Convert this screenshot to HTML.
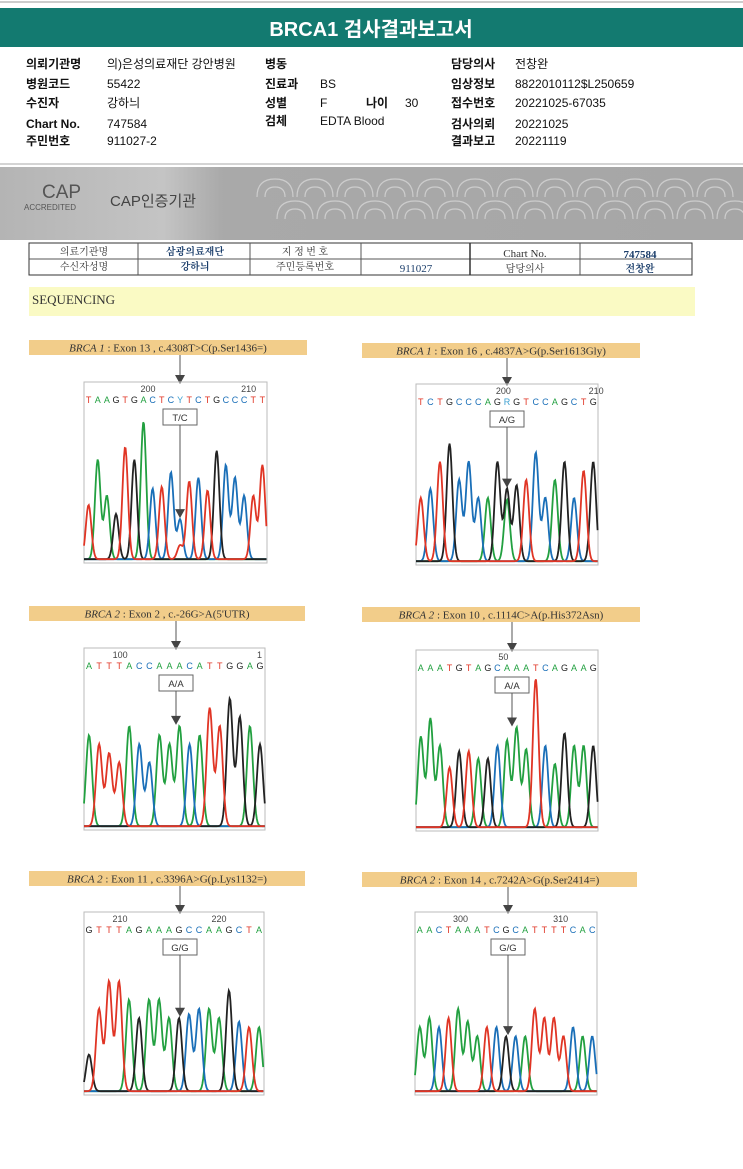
<!DOCTYPE html>
<html><head><meta charset="utf-8"><style>
body{margin:0;background:#fff;width:743px;height:1169px;overflow:hidden;font-family:"Liberation Sans","Noto Sans CJK KR",sans-serif}
svg{display:block}
</style></head><body>
<svg id="pg" width="743" height="1169" viewBox="0 0 743 1169" xmlns="http://www.w3.org/2000/svg">
<defs>
<linearGradient id="band" x1="0" x2="1"><stop offset="0" stop-color="#b4b4b4"/><stop offset="0.22" stop-color="#c4c4c4"/><stop offset="0.3" stop-color="#a9a9a9"/><stop offset="1" stop-color="#a6a6a6"/></linearGradient>
</defs>
<line x1="0" y1="2" x2="743" y2="2" stroke="#999"/>
<rect x="0" y="8" width="743" height="39" fill="#137a70"/>
<text x="371" y="36" text-anchor="middle" font-size="20" font-weight="bold" fill="#fff" font-family="Liberation Sans,'Noto Sans CJK KR',sans-serif">BRCA1 검사결과보고서</text>
<g font-size="12" font-family="Liberation Sans,'Noto Sans CJK KR',sans-serif" fill="#111">
<g font-weight="bold"><text x="26" y="68">의뢰기관명</text><text x="26" y="88">병원코드</text><text x="26" y="107">수진자</text><text x="26" y="128">Chart No.</text><text x="26" y="145">주민번호</text>
<text x="265" y="68">병동</text><text x="265" y="88">진료과</text><text x="265" y="107">성별</text><text x="265" y="125">검체</text><text x="366" y="107">나이</text>
<text x="451" y="68">담당의사</text><text x="451" y="88">임상정보</text><text x="451" y="107">접수번호</text><text x="451" y="128">검사의뢰</text><text x="451" y="145">결과보고</text></g>
<text x="107" y="68">의)은성의료재단 강안병원</text><text x="107" y="88">55422</text><text x="107" y="107">강하늬</text><text x="107" y="128">747584</text><text x="107" y="145">911027-2</text>
<text x="320" y="88">BS</text><text x="320" y="107">F</text><text x="405" y="107">30</text><text x="320" y="125">EDTA Blood</text>
<text x="515" y="68">전창완</text><text x="515" y="88">8822010112$L250659</text><text x="515" y="107">20221025-67035</text><text x="515" y="128">20221025</text><text x="515" y="145">20221119</text>
</g>
<line x1="0" y1="164" x2="743" y2="164" stroke="#aaa"/>
<rect x="0" y="167" width="743" height="73" fill="url(#band)"/>
<g fill="none" stroke="#d6d6d6" stroke-width="1.2" opacity="0.8" id="clouds"></g>
<text x="42" y="198" font-size="19" fill="#555">CAP</text>
<text x="24" y="210" font-size="8" fill="#555">ACCREDITED</text>
<text x="110" y="206" font-size="15" fill="#444" font-family="Liberation Sans,'Noto Sans CJK KR',sans-serif">CAP인증기관</text>
<g font-size="10" font-family="Liberation Serif,'Noto Serif CJK SC',serif" fill="#333">
<rect x="29" y="243" width="663" height="32" fill="#fff" stroke="#333"/>
<line x1="29" y1="259" x2="470" y2="259" stroke="#555"/><line x1="470" y1="259" x2="692" y2="259" stroke="#555"/>
<line x1="138" y1="243" x2="138" y2="275" stroke="#555"/><line x1="250" y1="243" x2="250" y2="275" stroke="#555"/><line x1="361" y1="243" x2="361" y2="275" stroke="#555"/><line x1="470" y1="243" x2="470" y2="275" stroke="#333" stroke-width="1.5"/><line x1="580" y1="243" x2="580" y2="275" stroke="#555"/>
<text x="84" y="255" text-anchor="middle">의료기관명</text><text x="84" y="270" text-anchor="middle">수신자성명</text>
<text x="195" y="255" text-anchor="middle" fill="#1a3d6a" font-weight="bold">삼광의료재단</text><text x="195" y="270" text-anchor="middle" fill="#1a3d6a" font-weight="bold">강하늬</text>
<text x="305" y="255" text-anchor="middle">지 정 번 호</text><text x="305" y="270" text-anchor="middle">주민등록번호</text>
<text x="416" y="272" text-anchor="middle" fill="#1a3d6a" font-size="11">911027</text>
<text x="525" y="257" text-anchor="middle" font-size="11">Chart No.</text><text x="525" y="272" text-anchor="middle">담당의사</text>
<text x="640" y="258" text-anchor="middle" fill="#1a3d6a" font-weight="bold" font-size="11">747584</text><text x="640" y="272" text-anchor="middle" fill="#1a3d6a" font-weight="bold">전창완</text>
</g>
<rect x="29" y="287" width="666" height="29" fill="#fafac4"/>
<text x="32" y="304" font-size="13" fill="#333" font-family="Liberation Serif,serif">SEQUENCING</text>
<g id="panels"></g>
</svg>
<script>
// Panel data
const titles=["BRCA 1 : Exon 13 , c.4308T>C(p.Ser1436=)","BRCA 1 : Exon 16 , c.4837A>G(p.Ser1613Gly)","BRCA 2 : Exon 2 , c.-26G>A(5'UTR)","BRCA 2 : Exon 10 , c.1114C>A(p.His372Asn)","BRCA 2 : Exon 11 , c.3396A>G(p.Lys1132=)","BRCA 2 : Exon 14 , c.7242A>G(p.Ser2414=)"];
const genotypes=["T/C","A/G","A/A","A/A","G/G","G/G"];
const seq1="TAAGTGACTCYTCTGCCCTT";
const seq2="TCTGCCCAGRGTCCAGCTG";
const seq3="ATTTACCAAACATTGGAG";
const seq4="AAATGTAGCAAATCAGAAG";
const seq5="GTTTAGAAAGCCAAGCTA";
const seq6="AACTAAATCGCATTTTCAC";
const heights1=[.3,.55,.35,.25,.62,.55,.76,.39,.4,.48,.22,.43,.45,.38,.6,.52,.45,.35,.35,.52];
const heights2=[.35,.4,.55,.65,.45,.55,.35,.35,.55,.4,.42,.45,.6,.35,.45,.55,.35,.5,.55];
const heights3=[.5,.45,.4,.35,.55,.45,.35,.5,.45,.55,.45,.5,.65,.55,.7,.6,.55,.45];
const heights4=[.5,.6,.45,.33,.42,.42,.38,.38,.45,.48,.55,.43,.82,.45,.35,.52,.45,.45,.45];
const heights5=[.2,.45,.6,.6,.5,.4,.5,.5,.4,.4,.42,.45,.45,.4,.55,.38,.35,.35];
const heights6=[.35,.4,.35,.4,.45,.38,.3,.35,.35,.3,.3,.3,.45,.4,.4,.3,.35,.3,.3];
const tickLabels=[["200","210"],["200","210"],["100","1"],["50",""],["210","220"],["300","310"]];
const seqs=[seq1,seq2,seq3,seq4,seq5,seq6];
const heights=[heights1,heights2,heights3,heights4,heights5,heights6];
// layout
const L=[{lx:29,ly:340,lw:278,bx:84,by:382,bw:183,bh:181,ax:180,tk:[0.35,0.9]},
{lx:362,ly:343,lw:278,bx:416,by:384,bw:182,bh:181,ax:507,tk:[0.48,0.99]},
{lx:29,ly:606,lw:276,bx:84,by:648,bw:181,bh:182,ax:176,tk:[0.2,0.97]},
{lx:362,ly:607,lw:278,bx:416,by:650,bw:182,bh:181,ax:512,tk:[0.48,1.2]},
{lx:29,ly:871,lw:276,bx:84,by:912,bw:180,bh:183,ax:180,tk:[0.2,0.75]},
{lx:362,ly:872,lw:275,bx:415,by:912,bw:182,bh:183,ax:508,tk:[0.25,0.8]}];
const col={A:"#22a040",C:"#1a6fb8",G:"#222",T:"#e03525"};
const NS="http://www.w3.org/2000/svg";
function mk(t,a,p){const e=document.createElementNS(NS,t);for(const k in a)e.setAttribute(k,a[k]);p.appendChild(e);return e;}
const root=document.getElementById('panels');
// clouds
const cl=document.getElementById('clouds');
for(let i=0;i<12;i++){for(let r=0;r<2;r++){const cx=275+i*40+r*20,cy=185+r*22;
mk('path',{d:`M${cx-18},${cy+12} q0,-18 18,-18 q18,0 18,18 M${cx-10},${cy+12} q0,-10 10,-10 q10,0 10,10`},cl);}}
L.forEach((p,i)=>{
 const g=mk('g',{},root);
 
 
 const lb=mk('rect',{x:p.lx,y:p.ly,width:p.lw,height:15,fill:'#f2cd8a'},g);
 
 
 const parts=titles[i].split(' : ');
 const tt=mk('text',{x:p.lx+p.lw/2,y:p.ly+11.5,'text-anchor':'middle','font-size':'11','font-family':'Liberation Serif,serif',fill:'#333'},g);
 
 
 const s1=mk('tspan',{'font-style':'italic'},tt);s1.textContent=parts[0];
 const s2=mk('tspan',{},tt);s2.textContent=' : '+parts[1];
 mk('line',{x1:p.ax,y1:p.ly+15,x2:p.ax,y2:p.by,stroke:'#555'},g);
 mk('path',{d:`M${p.ax-5},${p.by-7} L${p.ax+5},${p.by-7} L${p.ax},${p.by+2}Z`,fill:'#444'},g);
 const bx=mk('rect',{x:p.bx,y:p.by,width:p.bw,height:p.bh,fill:'none',stroke:'#bbb'},g);
 
 
 const s=seqs[i],h=heights[i],n=s.length,sp=p.bw/n;
 const xOf=k=>p.bx+sp*(k+0.5);
 tickLabels[i].forEach((t,j)=>{const e=mk('text',{x:p.bx+p.bw*p.tk[j],y:p.by+10,'font-size':'9','text-anchor':'middle',fill:'#444'},g);e.textContent=t;
  
  });
 for(let k=0;k<n;k++){const c=s[k];const e=mk('text',{x:xOf(k),y:p.by+21,'font-size':'9','text-anchor':'middle',fill:col[c]||'#3a9fd0'},g);e.textContent=c;
  
  }
 const gb=mk('rect',{x:p.ax-17,y:p.by+27,width:34,height:16,fill:'#fff',stroke:'#666'},g);
 
 
 const gt=mk('text',{x:p.ax,y:p.by+39,'font-size':'9.5','text-anchor':'middle',fill:'#333'},g);gt.textContent=genotypes[i];
 
 
 const base=p.by+p.bh-2,sig=sp*0.3;
 const comps={A:[],C:[],G:[],T:[]};
 for(let k=0;k<n;k++){let c=s[k];
  if(c==='Y'){comps.C.push([xOf(k),h[k]]);comps.T.push([xOf(k),h[k]*0.35]);}
  else if(c==='R'){comps.A.push([xOf(k),h[k]*0.85]);comps.G.push([xOf(k),h[k]]);}
  else comps[c].push([xOf(k),h[k]]);}
 for(const c of "ACGT"){let d='';
  for(let x=p.bx;x<=p.bx+p.bw;x+=0.8){let v=0.01;for(const [px,ph] of comps[c])v+=ph*Math.exp(-((x-px)**2)/(2*sig*sig));
   d+=(d?'L':'M')+x.toFixed(1)+','+(base-v*p.bh).toFixed(1);}
  const tr=mk('path',{d,fill:'none',stroke:col[c],'stroke-width':'1.8'},g);
  
  }
 const ay=base-Math.max(...h.map((v,k)=>Math.abs(xOf(k)-p.ax)<sp/2?v:0))*p.bh;
 mk('line',{x1:p.ax,y1:p.by+43,x2:p.ax,y2:ay-8,stroke:'#555'},g);
 mk('path',{d:`M${p.ax-5},${ay-12} L${p.ax+5},${ay-12} L${p.ax},${ay-3}Z`,fill:'#444'},g);
});
</script>
</body></html>
